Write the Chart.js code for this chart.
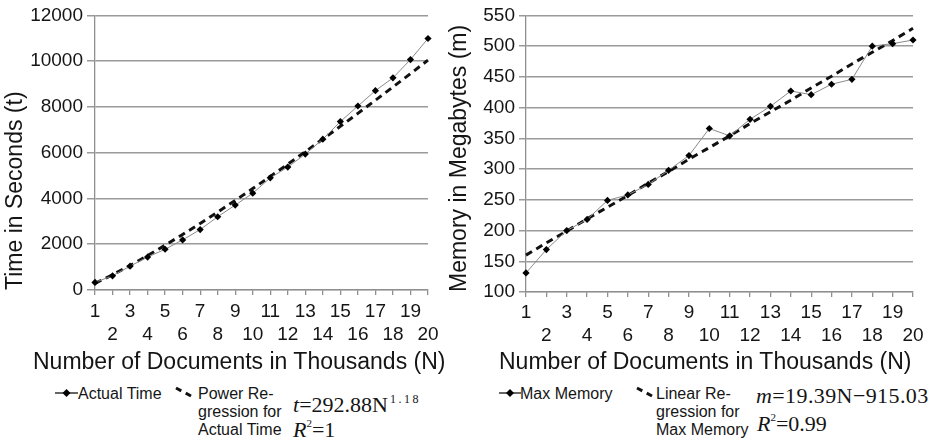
<!DOCTYPE html>
<html lang="en">
<head>
<meta charset="UTF-8">
<title>Time and Memory vs Number of Documents</title>
<script src="https://cdn.jsdelivr.net/npm/chart.js"></script>
<style>
  body { margin: 0; background: #fff; font-family: 'Liberation Sans', Arial, sans-serif; color: #151515; }
  #wrap { position: relative; width: 940px; height: 442px; overflow: hidden; }
  .box { position: absolute; top: 0; }
  .xtitle { position: absolute; font-size: 23px; line-height: 1; white-space: nowrap; }
  .leg { position: absolute; font-size: 16px; line-height: 17.8px; white-space: nowrap; }
  .eq { position: absolute; font-family: 'Liberation Serif', 'Times New Roman', serif; font-size: 22px; line-height: 1; white-space: nowrap; }
  .eq i { font-style: italic; }
  .eq sup { font-size: 12px; vertical-align: 9px; letter-spacing: 2.5px; margin-left: 2px; }
  .eq .r2 { font-size: 11px; vertical-align: 10px; }
  svg.swatch { position: absolute; overflow: visible; }
</style>
</head>
<body>
<div id="wrap">
  <div class="box" style="left:0"><canvas id="timeChart" width="470" height="350"></canvas></div>
  <div class="box" style="left:440px"><canvas id="memChart" width="500" height="350"></canvas></div>

  <div class="xtitle" style="left:33px; top:350px">Number of Documents in Thousands (N)</div>
  <div class="xtitle" style="left:499px; top:350px">Number of Documents in Thousands (N)</div>

  <!-- legend, left chart -->
  <svg class="swatch" style="left:55px; top:386px" width="23" height="14">
    <line x1="0" y1="7" x2="23" y2="7" stroke="#333" stroke-width="1.5"/>
    <polygon points="11.5,3 15.5,7 11.5,11 7.5,7" fill="#000"/>
  </svg>
  <div class="leg" style="left:78px; top:385px">Actual Time</div>
  <svg class="swatch" style="left:175px; top:387px" width="19" height="11">
    <line x1="1" y1="1" x2="18" y2="10" stroke="#111" stroke-width="3" stroke-dasharray="6 5"/>
  </svg>
  <div class="leg" style="left:198px; top:385px">Power Re-<br>gression for<br>Actual Time</div>
  <div class="eq" style="left:293px; top:393px"><i>t</i>=292.88N<sup>1.18</sup></div>
  <div class="eq" style="left:293px; top:418px"><i>R</i><span class="r2">2</span>=1</div>

  <!-- legend, right chart -->
  <svg class="swatch" style="left:499px; top:386px" width="22" height="14">
    <line x1="0" y1="7" x2="22" y2="7" stroke="#333" stroke-width="1.5"/>
    <polygon points="11,3 15,7 11,11 7,7" fill="#000"/>
  </svg>
  <div class="leg" style="left:520px; top:385px">Max Memory</div>
  <svg class="swatch" style="left:636px; top:387px" width="19" height="11">
    <line x1="1" y1="1" x2="18" y2="10" stroke="#111" stroke-width="3" stroke-dasharray="6 5"/>
  </svg>
  <div class="leg" style="left:656px; top:385px">Linear Re-<br>gression for<br>Max Memory</div>
  <div class="eq" style="left:756px; top:385px; letter-spacing:0.4px"><i>m</i>=19.39N−915.03</div>
  <div class="eq" style="left:757px; top:412px"><i>R</i><span class="r2">2</span>=0.99</div>
</div>

<script>
  const FONT = "'Liberation Sans', Arial, sans-serif";

  // number of documents (thousands)
  const docs = [1, 2, 3, 4, 5, 6, 7, 8, 9, 10, 11, 12, 13, 14, 15, 16, 17, 18, 19, 20];

  // time in seconds
  const actualTime = [333, 620, 1040, 1440, 1780, 2190, 2640, 3200, 3710, 4230,
                      4900, 5370, 5940, 6590, 7360, 8040, 8710, 9270, 10070, 10990];
  const powerFit = [293, 664, 1071, 1504, 1957, 2426, 2910, 3406, 3915, 4433,
                    4960, 5497, 6042, 6596, 7153, 7720, 8292, 8870, 9454, 10046];
  const timeTicks = [0, 2000, 4000, 6000, 8000, 10000, 12000];

  // memory in megabytes
  const maxMemory = [131, 169, 200, 218, 249, 258, 275, 298, 322, 366,
                     354, 381, 402, 427, 421, 438, 446, 500, 504, 510];
  const linearFit = [160, 180, 199, 219, 238, 257, 277, 296, 316, 335,
                     354, 374, 393, 412, 432, 451, 471, 490, 509, 529];
  const memTicks = [100, 150, 200, 250, 300, 350, 400, 450, 500, 550];

  function makeChart(id, actual, fit, yTicks, o) {
    return new Chart(document.getElementById(id), {
      type: 'line',
      data: {
        labels: docs,
        datasets: [
          {
            data: actual,
            borderColor: '#8a8a8a',
            borderWidth: 1,
            pointStyle: 'rectRot',
            pointRadius: 3.6,
            pointBackgroundColor: '#000',
            pointBorderColor: '#000',
            pointBorderWidth: 0
          },
          {
            data: fit,
            borderColor: '#111',
            borderWidth: 3,
            borderDash: [7, 5],
            pointRadius: 0
          }
        ]
      },
      options: {
        responsive: false,
        animation: false,
        layout: { padding: { left: 0, right: o.padRight, top: o.top, bottom: 0 } },
        plugins: { legend: { display: false }, tooltip: { enabled: false } },
        scales: {
          x: {
            grid: { drawOnChartArea: false, color: '#8f8f8f', lineWidth: 1.3, tickLength: 5 },
            border: { color: '#8f8f8f', width: 1.3 },
            ticks: {
              autoSkip: false,
              maxRotation: 0,
              padding: o.xPad,
              color: '#151515',
              font: { size: 19, family: FONT, lineHeight: 1.22 },
              // odd values on the first row, even values on the second
              callback: (v, i) => i % 2 ? ['', String(docs[i])] : String(docs[i])
            },
            afterFit: s => { s.height = o.xHeight; }
          },
          y: {
            min: yTicks[0],
            max: yTicks[yTicks.length - 1],
            grid: { color: '#9a9a9a', lineWidth: 1.5, tickLength: o.yTick },
            border: { color: '#8f8f8f', width: 1.3 },
            ticks: {
              stepSize: yTicks[1] - yTicks[0],
              padding: 4,
              color: '#151515',
              font: { size: 19, family: FONT },
              callback: v => String(v)
            },
            title: {
              display: true,
              text: o.title,
              align: 'start',
              color: '#151515',
              font: { size: 23, family: FONT },
              padding: { top: o.titlePad, bottom: 0 }
            },
            afterFit: s => { s.width = o.yWidth; }
          }
        }
      }
    });
  }

  makeChart('timeChart', actualTime, powerFit, timeTicks, {
    title: 'Time in Seconds (t)', padRight: 42, top: 13, xHeight: 60,
    yWidth: 95, yTick: 8, xPad: 5, titlePad: 2
  });

  makeChart('memChart', maxMemory, linearFit, memTicks, {
    title: 'Memory in Megabytes (m)', padRight: 27, top: 15, xHeight: 58,
    yWidth: 86, yTick: 7, xPad: 4, titlePad: 6
  });
</script>
</body>
</html>
